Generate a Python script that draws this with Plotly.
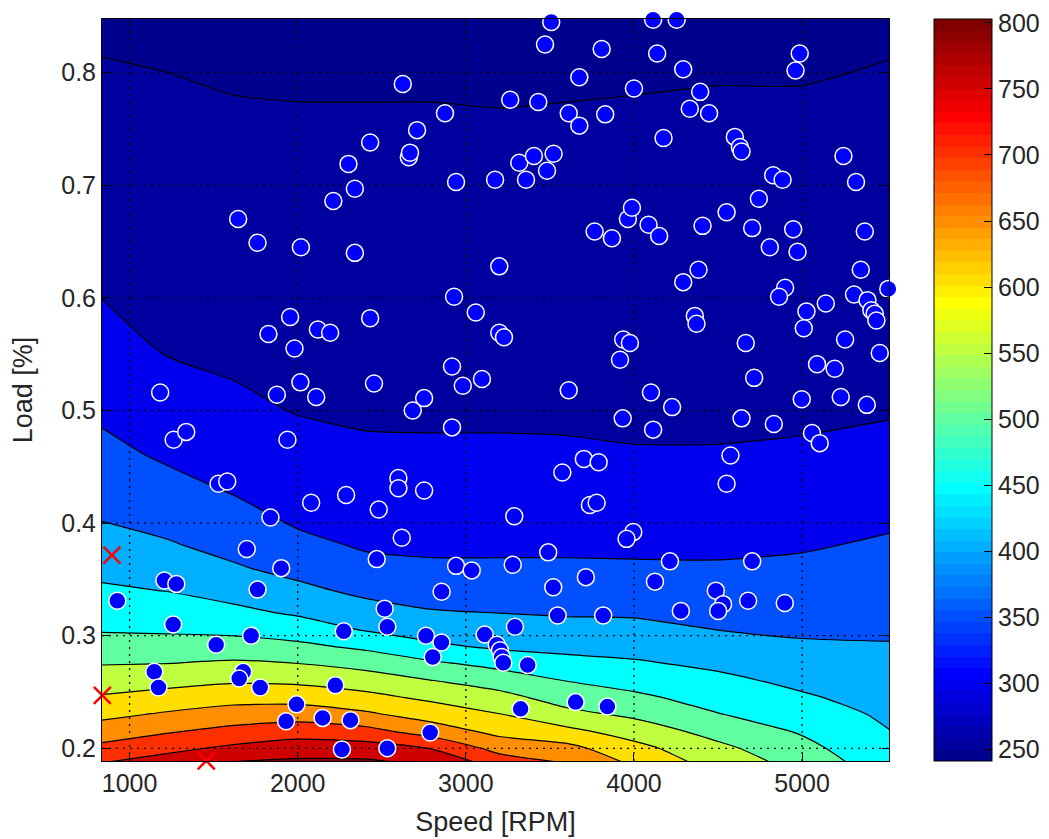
import plotly.graph_objects as go

# ---------------- data ----------------
# contour grid: speeds (columns) and loads (rows)
speed_grid = [832, 1220, 1620, 2010, 2410, 2800, 3200, 3600, 4000, 4500, 5000, 5520]
load_grid = [0.188, 0.20, 0.215, 0.23, 0.245, 0.26, 0.275, 0.29, 0.305, 0.32, 0.34,
             0.36, 0.38, 0.40, 0.43, 0.46, 0.50, 0.55, 0.60, 0.70, 0.78, 0.848]

# surface values along each speed column (bottom -> top of the load grid)
z_832 = [747, 713, 674, 638, 605, 576, 548, 521, 496.5, 480, 457, 437.5, 419, 401, 382, 363, 342, 321, 300, 277, 258, 242]
z_1220 = [770, 737, 695, 656, 619, 584, 550.5, 521, 494, 474.5, 449, 427, 405, 388, 365, 344, 323, 299, 289, 269, 253, 243]
z_1620 = [801, 760, 715, 673, 632, 594, 558, 521, 489, 462, 432, 405, 386, 369, 346, 330, 308, 293, 284, 265, 250, 243]
z_2010 = [808, 776, 728, 678, 631, 590, 550.5, 511, 476, 444, 411, 385, 362, 345, 330, 315, 298, 289, 281, 263, 249, 242]
z_2410 = [807, 772, 716, 658, 614, 574, 534, 491, 447, 420, 389, 363, 345, 335, 321, 306, 295, 287, 279, 262, 249, 242]
z_2800 = [788, 748, 676, 629, 590, 551, 509, 460, 430, 404, 380, 356, 343, 333.5, 319, 305, 295, 287, 278, 262, 249, 242]
z_3200 = [726, 682, 636, 602, 566, 528, 486, 443, 421, 400, 378, 356, 343, 333.5, 319, 305, 295, 287, 278, 262, 248, 242]
z_3600 = [695, 665, 613, 564, 529, 499, 465, 438, 416, 396, 376, 356, 343, 333, 319, 304, 295, 287, 278, 262, 249, 242]
z_4000 = [640, 616, 578, 541, 510, 482, 456, 434, 413, 395, 375, 355, 342.5, 332, 317, 302, 294, 286, 278.5, 263, 250, 242]
z_4500 = [578, 562, 532, 502, 481, 461, 441, 420, 400, 387, 371, 354, 343, 332.5, 317, 302, 294, 287, 279, 263, 251, 243]
z_5000 = [532, 515, 495, 476, 456, 439, 423, 406, 394, 384, 371, 358.5, 346, 336, 320, 304, 295, 287, 279, 263.5, 251, 243]
z_5520 = [468, 460, 451, 441, 431.5, 422, 412, 403, 394, 387, 376.5, 366, 356, 345, 328.5, 311.5, 297, 289, 281, 266, 253.5, 246]

contour_levels = [250, 300, 350, 400, 450, 500, 550, 600, 650, 700, 750, 800]
color_min, color_max = 241, 800      # colour limits of the map
bar_min, bar_max = 241, 803          # extent drawn by the colour bar
cbar_ticks = [250, 300, 350, 400, 450, 500, 550, 600, 650, 700, 750, 800]

# measured operating points (blue circles)
point_speed = [1646, 1761, 2019, 2212, 2302, 2340, 2340, 2431, 2625, 2661, 2668, 2710, 2876, 2942, 3174,
               3199, 3264, 3318, 3358, 3405, 3431, 3471, 3483, 3508, 3522, 3612, 3675, 3675, 3766, 3808,
               3829, 3869, 3964, 3988, 4000, 4114, 4254, 4138, 4293, 4394, 4332, 4447, 4176, 4600, 4630,
               4640, 4828, 4884, 4743, 4087, 4150, 4408, 4551, 4703, 4947, 4808, 4973, 4986, 4961, 5246,
               5321, 5373, 4384, 5349, 4293, 4899, 4863, 5513, 5309, 5389, 5412, 5432, 5442, 5141, 5026,
               5010, 4362, 4372, 3936, 3976, 3917, 4665, 5256, 5462, 5089, 5194, 4715, 4101, 4227, 3933,
               4114, 4640, 4832, 4998, 5230, 5385, 5059, 5105, 4574, 4551, 3996, 3956, 2930, 3059, 2431,
               3199, 3227, 2918, 2454, 2982, 3096, 3612, 2752, 2684, 2918, 3702, 3790, 3574, 2599, 2599,
               2752, 2288, 2482, 3288, 3738, 3778, 2619, 1955, 1826, 2120, 2193, 1981, 1182, 1876, 2016,
               2110, 1262, 1337, 1939, 1529, 1581, 2080, 1838, 1697, 2470, 1902, 2942, 3035, 1207, 1278,
               1761, 2856, 927, 2517, 2533, 1259, 2274, 1723, 1515, 2763, 2855, 2803, 3112, 3184, 3203,
               3213, 3223, 1147, 1172, 1676, 1652, 1777, 2224, 1993, 1931, 2148, 2314, 2788, 2263, 2533,
               3279, 3490, 3714, 3520, 3546, 3817, 3292, 3368, 3326, 3653, 3842, 4214, 4703, 4125, 4487,
               4530, 4501, 4679, 4897, 4279]
point_load = [0.670, 0.649, 0.645, 0.686, 0.719, 0.697, 0.640, 0.738, 0.790, 0.725, 0.729, 0.749, 0.764, 0.703, 0.705,
              0.628, 0.776, 0.720, 0.705, 0.726, 0.774, 0.825, 0.713, 0.845, 0.728, 0.764, 0.796, 0.753, 0.659, 0.821,
              0.763, 0.653, 0.670, 0.680, 0.786, 0.847, 0.847, 0.817, 0.803, 0.783, 0.768, 0.764, 0.742, 0.743, 0.734,
              0.730, 0.709, 0.705, 0.688, 0.665, 0.655, 0.664, 0.676, 0.662, 0.661, 0.645, 0.641, 0.817, 0.802, 0.726,
              0.703, 0.659, 0.625, 0.625, 0.614, 0.609, 0.601, 0.608, 0.603, 0.598, 0.589, 0.586, 0.580, 0.595, 0.588,
              0.573, 0.584, 0.577, 0.563, 0.560, 0.545, 0.560, 0.563, 0.551, 0.541, 0.537, 0.529, 0.516, 0.503, 0.493,
              0.483, 0.493, 0.488, 0.510, 0.512, 0.505, 0.480, 0.471, 0.460, 0.435, 0.392, 0.386, 0.601, 0.587, 0.582,
              0.569, 0.565, 0.539, 0.524, 0.522, 0.528, 0.518, 0.511, 0.500, 0.485, 0.457, 0.454, 0.445, 0.440, 0.431,
              0.429, 0.425, 0.412, 0.406, 0.416, 0.418, 0.387, 0.583, 0.568, 0.572, 0.569, 0.555, 0.516, 0.514, 0.525,
              0.512, 0.474, 0.481, 0.474, 0.435, 0.437, 0.418, 0.405, 0.377, 0.368, 0.360, 0.362, 0.358, 0.349, 0.346,
              0.341, 0.339, 0.331, 0.324, 0.308, 0.310, 0.304, 0.300, 0.292, 0.300, 0.294, 0.281, 0.301, 0.292, 0.287,
              0.281, 0.276, 0.268, 0.254, 0.268, 0.262, 0.254, 0.256, 0.239, 0.224, 0.227, 0.225, 0.214, 0.199, 0.200,
              0.363, 0.374, 0.352, 0.343, 0.318, 0.318, 0.308, 0.274, 0.235, 0.241, 0.237, 0.366, 0.366, 0.348, 0.340,
              0.328, 0.322, 0.331, 0.329, 0.322]

# red crosses on the border
cross_speed = [895, 838, 1456]
cross_load = [0.3715, 0.247, 0.1889]

x_ticks = [1000, 2000, 3000, 4000, 5000]
y_ticks = [0.2, 0.3, 0.4, 0.5, 0.6, 0.7, 0.8]
x_range = [836, 5517]
y_range = [0.1887, 0.8477]

# ---------------- styling helpers ----------------
def jet64():
    n, m = 64, 16
    u = [i / 16 for i in range(1, 17)] + [1.0] * 15 + [i / 16 for i in range(16, 0, -1)]
    r = [0.0] * n; g = [0.0] * n; b = [0.0] * n
    for k, val in enumerate(u):
        gi = 8 + k + 1
        ri, bi = gi + m, gi - m
        if 1 <= gi <= n: g[gi - 1] = val
        if 1 <= ri <= n: r[ri - 1] = val
        if 1 <= bi <= n: b[bi - 1] = val
    return ['rgb(%d,%d,%d)' % (round(r[i] * 255), round(g[i] * 255), round(b[i] * 255)) for i in range(n)]

JET = jet64()

def jet_at(v):
    idx = int((v - color_min) / (color_max - color_min) * 64)
    return JET[max(0, min(63, idx))]

# band colours (matlab style: each band coloured by its lower level)
band_values = [color_min] + contour_levels
nb = len(band_values) - 1
band_scale = [[k / nb, jet_at(v)] for k, v in enumerate(band_values)]

# stepped jet colorbar
bar_scale = []
for i, c in enumerate(JET):
    bar_scale.append([i / 64, c])
    bar_scale.append([(i + 1) / 64, c])

# z as rows (load) x columns (speed)
columns = [z_832, z_1220, z_1620, z_2010, z_2410, z_2800, z_3200, z_3600, z_4000, z_4500, z_5000, z_5520]
z = [[col[i] for col in columns] for i in range(len(load_grid))]

FONT = "Liberation Sans"
TXT = "#262626"

fig = go.Figure()

fig.add_trace(go.Contour(
    x=speed_grid, y=load_grid, z=z,
    autocontour=False,
    contours=dict(start=contour_levels[0], end=contour_levels[-1],
                  size=contour_levels[1] - contour_levels[0], coloring="fill"),
    colorscale=band_scale, showscale=False,
    line=dict(color="black", width=1.2, smoothing=0.6),
    hoverinfo="skip",
))

# dotted grid over the filled contours
gx, gy = [], []
for v in x_ticks:
    gx += [v, v, None]; gy += [y_range[0], y_range[1], None]
for v in y_ticks:
    gx += [x_range[0], x_range[1], None]; gy += [v, v, None]
fig.add_trace(go.Scatter(x=gx, y=gy, mode="lines",
                         line=dict(color="black", width=1.3, dash="2px,5px"),
                         hoverinfo="skip", showlegend=False))

fig.add_trace(go.Scatter(
    x=point_speed, y=point_load, mode="markers",
    marker=dict(symbol="circle", size=17, color="#0000FF",
                line=dict(color="white", width=1.5)),
    cliponaxis=False, showlegend=False,
))

fig.add_trace(go.Scatter(
    x=cross_speed, y=cross_load, mode="markers",
    marker=dict(symbol="x-thin-open", size=17, color="red",
                line=dict(color="red", width=2.5)),
    cliponaxis=False, showlegend=False,
))

# invisible heatmap carrying the continuous jet colorbar
fig.add_trace(go.Heatmap(
    x=[20000, 20001], y=[5, 6], z=[[bar_min, bar_max], [bar_min, bar_max]],
    zmin=bar_min, zmax=bar_max, colorscale=bar_scale, hoverinfo="skip",
    showscale=True,
    colorbar=dict(
        x=1.0572, xanchor="left", xpad=0, ypad=0,
        y=0.5, yanchor="middle", len=1.0, lenmode="fraction",
        thickness=58, outlinewidth=1, outlinecolor="black",
        tickvals=cbar_ticks, ticks="inside", ticklen=8, tickcolor="black",
        ticklabeloverflow="allow",
        tickfont=dict(family=FONT, size=25, color=TXT),
    ),
))

axis_common = dict(
    showline=True, linecolor="black", linewidth=1, mirror="ticks",
    ticks="inside", ticklen=7, tickcolor="black", tickwidth=1,
    showgrid=False, zeroline=False, layer="above traces",
    tickfont=dict(family=FONT, size=25, color=TXT),
)

# the page body adds an 8 px offset, so margins are shifted to compensate
fig.update_layout(
    width=1049, height=839,
    margin=dict(l=94, r=168, t=11, b=86, autoexpand=False),
    paper_bgcolor="white", plot_bgcolor="white",
    showlegend=False,
    xaxis=dict(range=x_range, tickvals=x_ticks, **axis_common,
               title=dict(text="Speed [RPM]", standoff=16,
                          font=dict(family=FONT, size=27, color=TXT))),
    yaxis=dict(range=y_range, tickvals=y_ticks,
               ticktext=["%.1f" % v for v in y_ticks], **axis_common,
               title=dict(text="Load [%]", standoff=22,
                          font=dict(family=FONT, size=27, color=TXT))),
)

fig.write_html("out.html")
